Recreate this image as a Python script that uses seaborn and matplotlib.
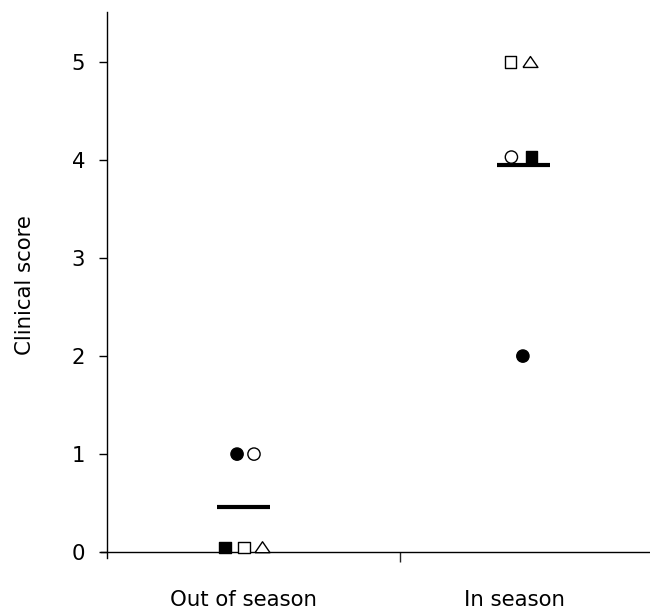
import matplotlib
matplotlib.use("Agg")
import matplotlib.pyplot as plt
import seaborn as sns
import pandas as pd

# Clinical scores of five animals, out of and during the season
categories = ["Out of season", "In season"]
animals = ["A", "B", "C", "D", "E"]
out_of_season = [1.0, 1.0, 0.05, 0.05, 0.05]
in_season = [2.0, 4.03, 4.03, 5.0, 5.0]
group_means = [0.46, 3.95]
y_ticks = [0, 1, 2, 3, 4, 5]

# horizontal spread of the symbols inside each group (avoids overlap)
spread_out = [-0.023, 0.0375, -0.066, 0.002, 0.068]
spread_in = [-0.002, -0.043, 0.030, -0.045, 0.025]

rows = []
for i, a in enumerate(animals):
    rows.append({"animal": a, "x": 0 + spread_out[i], "score": out_of_season[i]})
    rows.append({"animal": a, "x": 1 + spread_in[i], "score": in_season[i]})
df = pd.DataFrame(rows)

sns.set_theme(style="white")
plt.rcParams["font.family"] = ["DejaVu Sans"]
FS = 15.3

fig = plt.figure(figsize=(6.5, 6.1), dpi=100)
ax = fig.add_axes([107 / 650, 1 - 558 / 610, 543 / 650, 546 / 610])

# flattened open triangle (closed outline)
tri = [(-1.0, -0.73), (1.0, -0.73), (0.0, 0.73), (-1.0, -0.73)]
markers = {"A": "o", "B": "o", "C": "s", "D": "s", "E": tri}
faces = {"A": "black", "B": "white", "C": "black", "D": "white", "E": "white"}
sizes = {"A": 78, "B": 78, "C": 66, "D": 66, "E": 116}

sns.scatterplot(data=df, x="x", y="score", hue="animal", style="animal",
                size="animal", palette=faces, markers=markers, sizes=sizes,
                edgecolor="black", linewidth=1.0, legend=False, ax=ax,
                zorder=3, clip_on=False)

# group means as short horizontal bars
half = 0.095
for i, m in enumerate(group_means):
    ax.hlines(m, i - half, i + half, colors="black", linewidth=3.0, zorder=2)

ax.set_xlim(-0.4875, 1.452)
ax.set_ylim(-0.06, 5.51)

# axis lines
for side in ["top", "right"]:
    ax.spines[side].set_visible(False)
ax.spines["left"].set_color("black")
ax.spines["left"].set_linewidth(1.0)
ax.spines["bottom"].set_position(("data", 0))
ax.spines["bottom"].set_bounds(-0.509, 1.452)
ax.spines["bottom"].set_color("black")
ax.spines["bottom"].set_linewidth(1.0)

ax.set_yticks(y_ticks)
ax.set_yticklabels([str(t) for t in y_ticks])
ax.tick_params(axis="y", direction="out", length=5.8, width=1.0, pad=10,
               labelsize=FS, colors="black", left=True)

# divider tick between the groups, category names under each group
ax.set_xticks([0.559])
ax.set_xticklabels([""])
ax.tick_params(axis="x", which="major", direction="out", length=7.5,
               width=1.0, bottom=True)
ax.set_xticks([0, 0.968], minor=True)
ax.set_xticklabels(categories, minor=True)
ax.tick_params(axis="x", which="minor", length=0, pad=27, labelsize=FS,
               colors="black")

ax.set_xlabel("")
ax.set_ylabel("Clinical score", fontsize=FS, color="black", labelpad=26)

fig.savefig("out.png", dpi=100)
